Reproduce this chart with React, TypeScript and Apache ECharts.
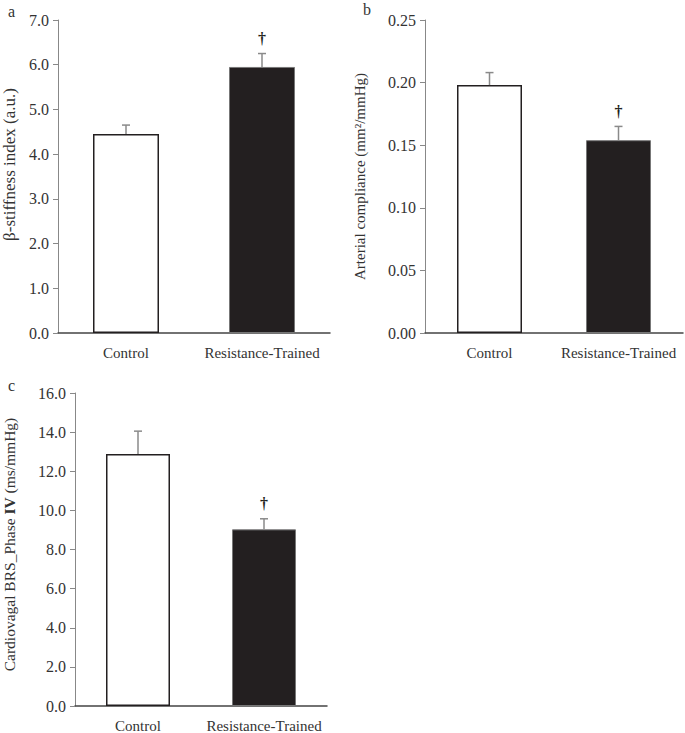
import React, { useEffect, useRef } from "react";
import * as echarts from "echarts";

const categories = ["Control", "Resistance-Trained"];

const stiffnessMean = [4.45, 5.95];
const stiffnessUpper = [4.65, 6.25];
const stiffnessMark = [0, 1];

const complianceMean = [0.198, 0.154];
const complianceUpper = [0.208, 0.165];
const complianceMark = [0, 1];

const brsMean = [12.88, 9.03];
const brsUpper = [14.05, 9.57];
const brsMark = [0, 1];

const FONT = "'Liberation Serif', 'DejaVu Serif', serif";
const TEXT = "#333333";

export default function App() {
  const ref = useRef<HTMLDivElement>(null);

  useEffect(() => {
    if (!ref.current) return;
    const chart = echarts.init(ref.current, undefined, { renderer: "svg" });

    const grids = [
      { left: 58, top: 20, width: 272, height: 313 },
      { left: 425, top: 20, width: 258, height: 313 },
      { left: 68, top: 393, width: 259, height: 314 },
    ];

    const yDefs = [
      { min: 0, max: 7, interval: 1, dec: 1, name: "β-stiffness index (a.u.)", gap: 40, size: 17, pad: [0, 0, 0, 24] },
      { min: 0, max: 0.25, interval: 0.05, dec: 2, name: "Arterial compliance (mm²/mmHg)", gap: 58, size: 15, pad: [0, 0, 0, 0] },
      { min: 0, max: 16, interval: 2, dec: 1, name: "Cardiovagal BRS_Phase {b|IV} (ms/mmHg)", gap: 58, size: 15.5, pad: [0, 0, 0, 10] },
    ];

    const means = [stiffnessMean, complianceMean, brsMean];
    const uppers = [stiffnessUpper, complianceUpper, brsUpper];
    const marks = [stiffnessMark, complianceMark, brsMark];
    const barWidths = [66, 65, 64];

    const xAxis = grids.map((_, i) => ({
      type: "category",
      gridIndex: i,
      data: categories,
      axisLine: { show: true, lineStyle: { color: "#444", width: 1.5 } },
      axisTick: { show: false },
      axisLabel: { color: TEXT, fontFamily: FONT, fontSize: 15, margin: 12, interval: 0 },
    }));

    const yAxis = yDefs.map((d, i) => ({
      type: "value",
      gridIndex: i,
      min: d.min,
      max: d.max,
      interval: d.interval,
      name: d.name,
      nameLocation: "middle",
      nameGap: d.gap,
      nameTextStyle: {
        color: TEXT,
        fontFamily: FONT,
        fontSize: d.size,
        padding: d.pad,
        rich: { b: { color: TEXT, fontFamily: FONT, fontSize: d.size, fontWeight: "bold" } },
      },
      splitLine: { show: false },
      axisLine: { show: true, lineStyle: { color: "#888", width: 1 } },
      axisTick: { show: true, inside: false, length: 5, lineStyle: { color: "#888" } },
      axisLabel: {
        color: TEXT,
        fontFamily: FONT,
        fontSize: 16,
        margin: 9,
        formatter: (v: number) => v.toFixed(d.dec),
      },
    }));

    const series: any[] = [];
    means.forEach((m, i) => {
      series.push({
        type: "bar",
        xAxisIndex: i,
        yAxisIndex: i,
        barWidth: barWidths[i],
        data: m.map((v, j) => ({
          value: v,
          itemStyle:
            j === 0
              ? { color: "#ffffff", borderColor: "#231f20", borderWidth: 1.5 }
              : { color: "#231f20", borderColor: "#777", borderWidth: 1 },
        })),
        z: 2,
      });
      series.push({
        type: "custom",
        xAxisIndex: i,
        yAxisIndex: i,
        z: 3,
        itemStyle: { color: "#231f20" },
        encode: { x: 0, y: [1, 2] },
        data: m.map((v, j) => [j, v, uppers[i][j], marks[i][j]]),
        renderItem: (params: any, api: any) => {
          const idx = api.value(0);
          const mean = api.value(1);
          const up = api.value(2);
          const mark = api.value(3);
          const p0 = api.coord([idx, mean]);
          const p1 = api.coord([idx, up]);
          const st = { stroke: "#8a8a8a", lineWidth: 1.5 };
          const children: any[] = [
            { type: "line", shape: { x1: p0[0], y1: p0[1], x2: p1[0], y2: p1[1] }, style: st },
            { type: "line", shape: { x1: p1[0] - 4, y1: p1[1], x2: p1[0] + 4, y2: p1[1] }, style: st },
          ];
          if (mark) {
            children.push({
              type: "text",
              x: p1[0],
              y: p1[1] - 15,
              style: {
                text: "†",
                fill: "#231f20",
                fontFamily: FONT,
                fontSize: 16,
                fontWeight: "bold",
                align: "center",
                verticalAlign: "middle",
              },
            });
          }
          return { type: "group", children };
        },
      });
    });

    const letter = (t: string, x: number, y: number) => ({
      type: "text",
      left: x,
      top: y,
      style: { text: t, fill: TEXT, fontFamily: FONT, fontSize: 16 },
    });

    chart.setOption({
      animation: false,
      backgroundColor: "#ffffff",
      grid: grids,
      xAxis,
      yAxis,
      series,
      graphic: [letter("a", 8, 3), letter("b", 363, 1), letter("c", 8, 377)],
    });

    return () => chart.dispose();
  }, []);

  return (
    <div
      ref={ref}
      style={{ position: "absolute", left: 0, top: 0, width: 685, height: 733 }}
    />
  );
}
